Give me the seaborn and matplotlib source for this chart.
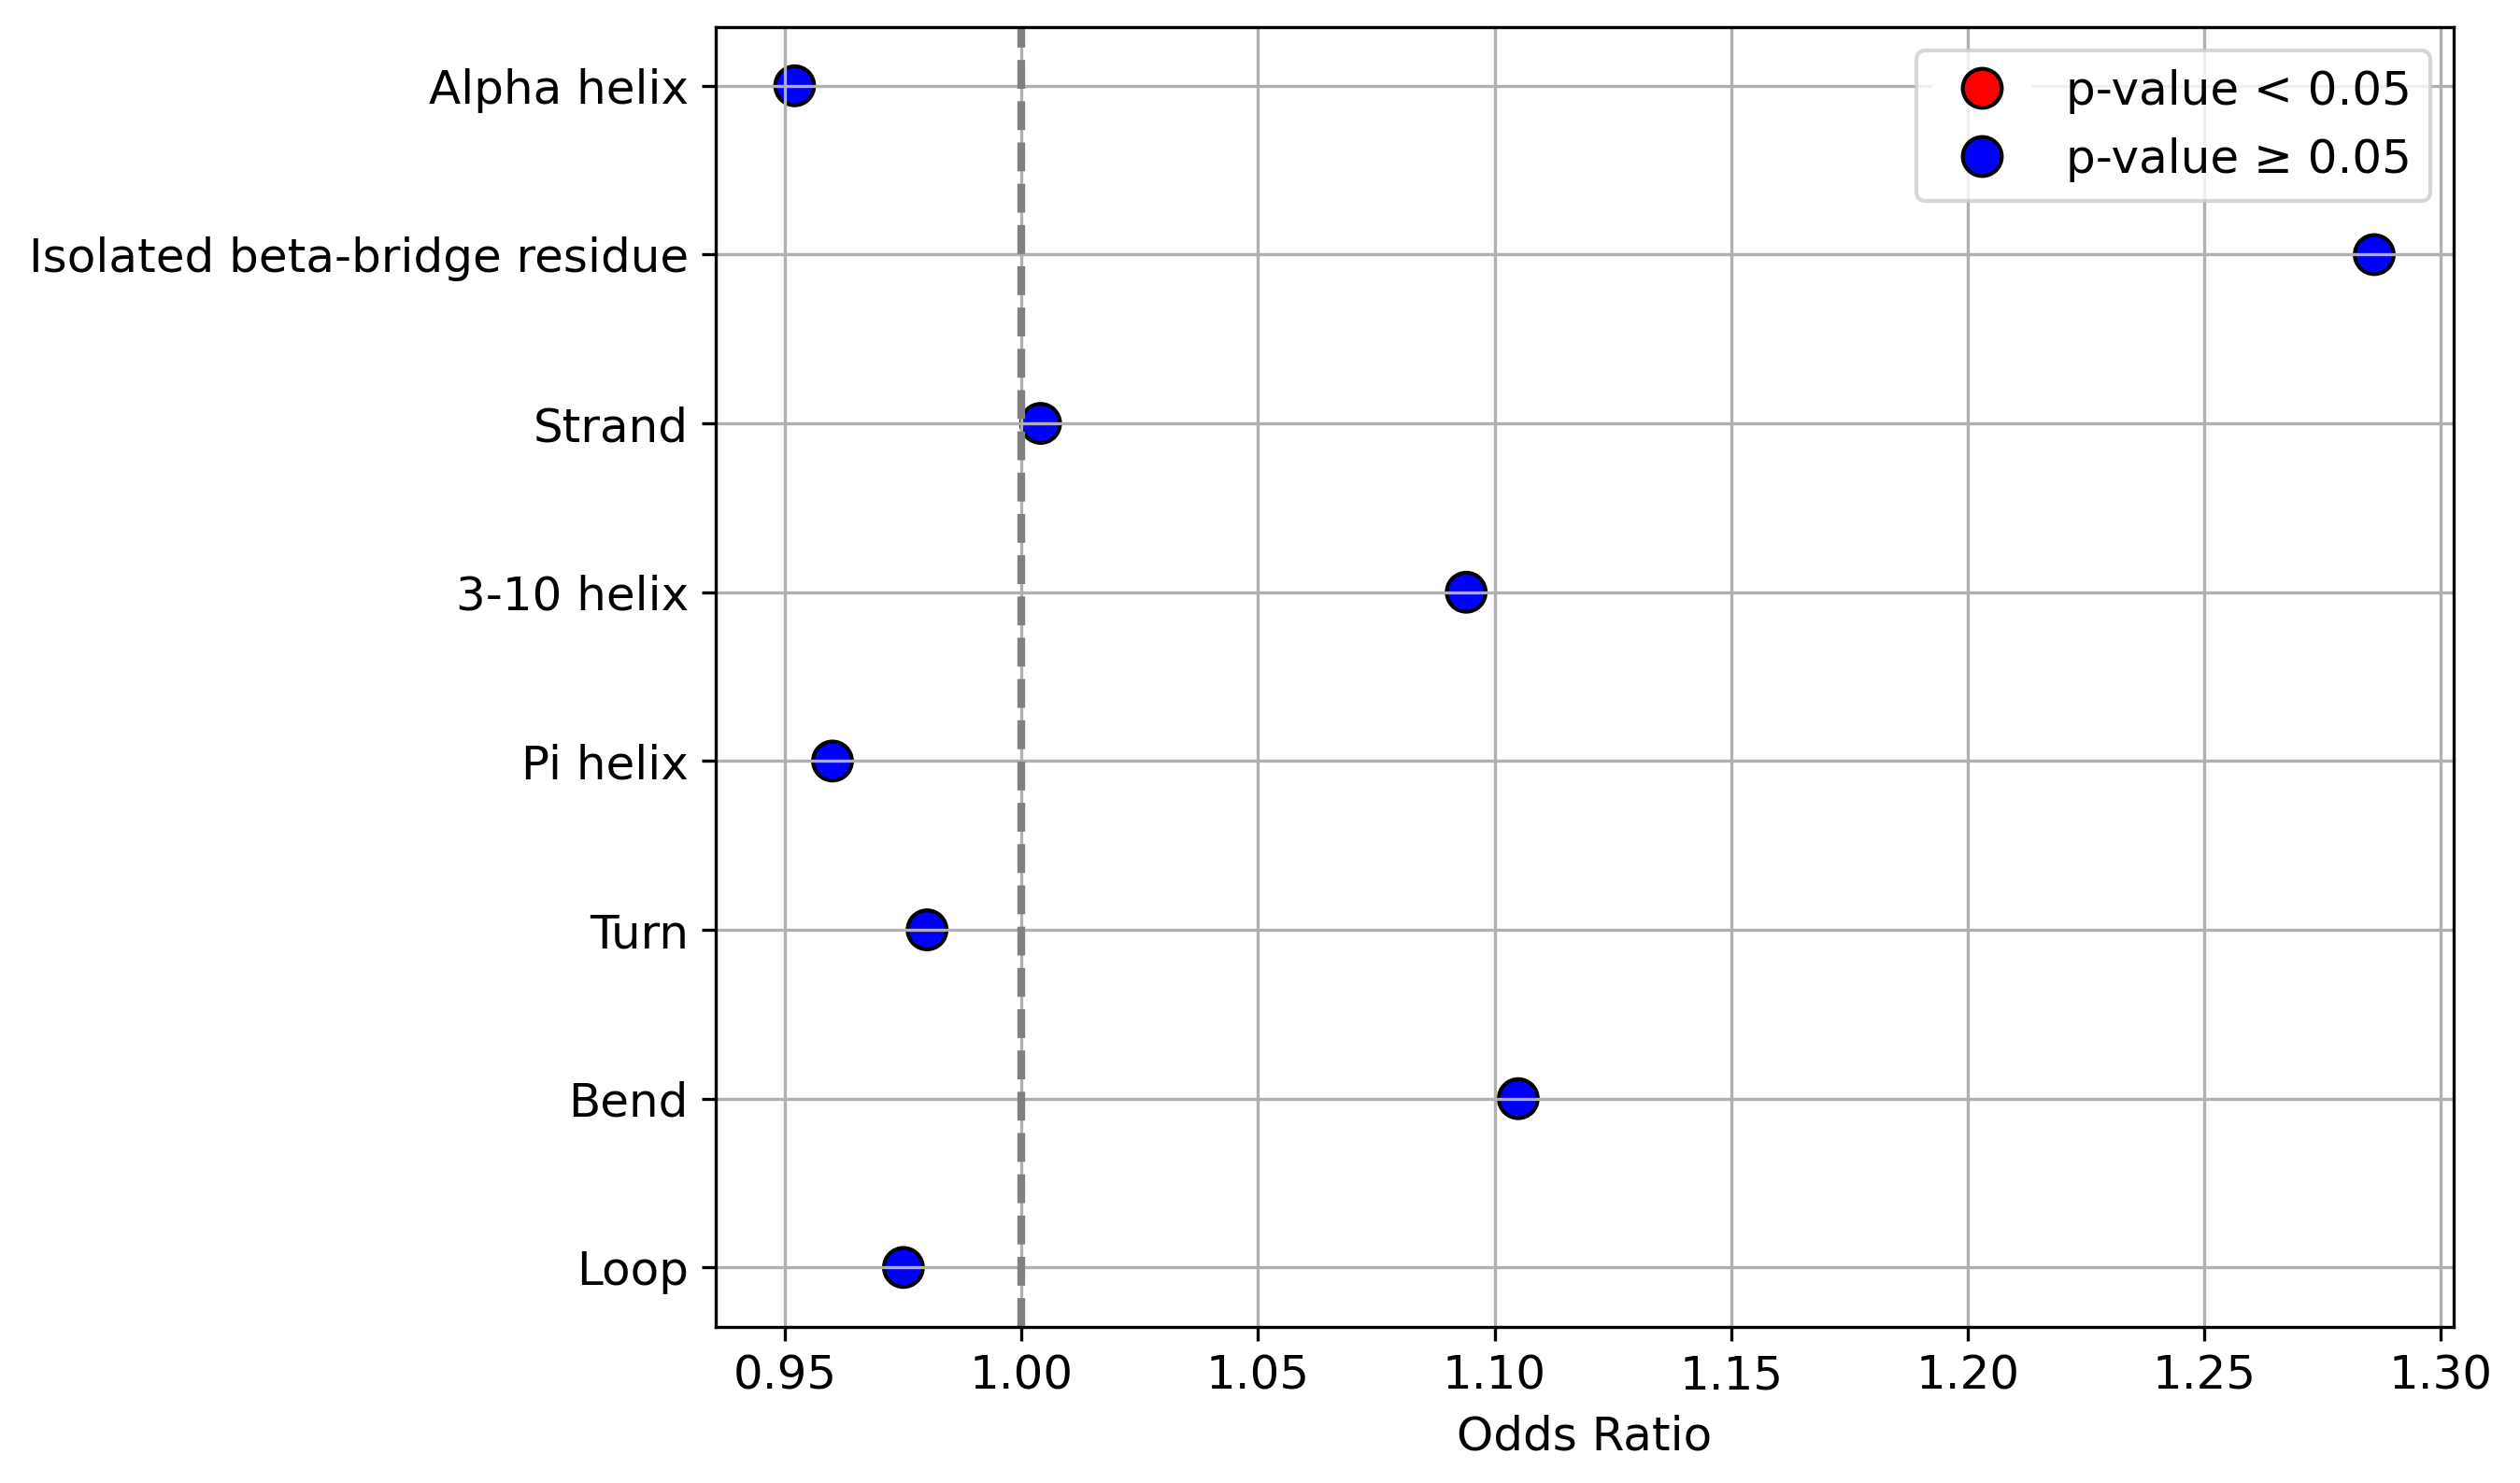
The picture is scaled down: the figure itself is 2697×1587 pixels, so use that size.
import seaborn as sns
import matplotlib.pyplot as plt
import pandas as pd
from matplotlib.lines import Line2D

structures = ['Alpha helix', 'Isolated beta-bridge residue', 'Strand', '3-10 helix',
              'Pi helix', 'Turn', 'Bend', 'Loop']
odds_ratios = [0.952, 1.286, 1.004, 1.094, 0.960, 0.980, 1.105, 0.975]
significant = [False, False, False, False, False, False, False, False]

df = pd.DataFrame({'structure': structures, 'odds_ratio': odds_ratios,
                   'significant': significant})
df['group'] = df['significant'].map({True: 'sig', False: 'nonsig'})

plt.rcParams['font.size'] = 12

fig, ax = plt.subplots(figsize=(2697/300, 1587/300), dpi=300)
sns.scatterplot(data=df, x='odds_ratio', y='structure', hue='group',
                palette={'sig': 'red', 'nonsig': 'blue'}, s=100,
                edgecolor='black', linewidth=1, legend=False, ax=ax)
ax.axvline(1, color='gray', linestyle='--', linewidth=2)
if not ax.yaxis_inverted():
    ax.invert_yaxis()
ax.set_xlabel('Odds Ratio')
ax.set_ylabel('')
ax.grid(True)

handles = [
    Line2D([0], [0], marker='o', color='w', markerfacecolor='red',
           markeredgecolor='black', markersize=10, label='p-value < 0.05'),
    Line2D([0], [0], marker='o', color='w', markerfacecolor='blue',
           markeredgecolor='black', markersize=10, label='p-value ≥ 0.05'),
]
ax.legend(handles=handles, loc='upper right')

fig.subplots_adjust(left=0.284, right=0.9735, top=0.982, bottom=0.1055)
fig.savefig('out.png', dpi=300)
